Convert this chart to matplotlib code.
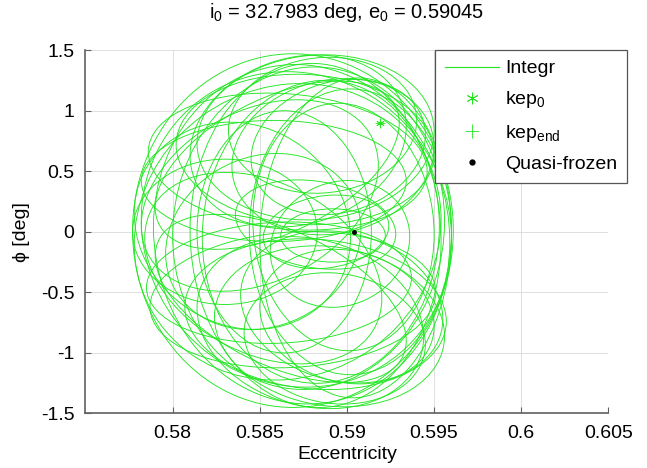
import numpy as np
import matplotlib.pyplot as plt
from matplotlib.patches import Ellipse
from matplotlib.transforms import Affine2D

plt.rcParams['font.family'] = ['Liberation Sans', 'DejaVu Sans']
plt.rcParams['mathtext.default'] = 'regular'

# loops of the integrated trajectory:
# centre (e, phi), half extent in e and phi, phi tilt at the right end
loop_e = [0.5869, 0.5874, 0.5878, 0.5866, 0.5882, 0.5871, 0.5885,
          0.5902, 0.5898, 0.5905,
          0.5882, 0.5876, 0.5892, 0.5866, 0.5886, 0.5858, 0.5872, 0.5895,
          0.5890, 0.5882, 0.5897, 0.5869, 0.5893, 0.5861, 0.5879, 0.5900,
          0.5840, 0.5852, 0.5864, 0.5830,
          0.5892, 0.5882, 0.5896, 0.5888,
          0.5860, 0.5862, 0.5850, 0.5852]
loop_phi = [0.01, -0.02, 0.03, 0.0, -0.03, 0.02, 0.0,
            0.0, 0.04, -0.05,
            0.78, 0.68, 0.62, 0.58, 0.88, 0.42, 0.75, 0.70,
            -0.78, -0.68, -0.62, -0.56, -0.88, -0.42, -0.75, -0.70,
            0.05, -0.08, 0.0, 0.0,
            -0.03, 0.06, -0.10, 0.0,
            0.55, -0.55, 0.30, -0.30]
loop_half_e = [0.0092, 0.0085, 0.0078, 0.0088, 0.0072, 0.0089, 0.0068,
               0.0058, 0.0052, 0.0055,
               0.0068, 0.0074, 0.0058, 0.0080, 0.0054, 0.0076, 0.0062, 0.0050,
               0.0066, 0.0075, 0.0058, 0.0082, 0.0052, 0.0076, 0.0065, 0.0050,
               0.0062, 0.0056, 0.0050, 0.0053,
               0.0030, 0.0046, 0.0040, 0.0036,
               0.0070, 0.0072, 0.0068, 0.0068]
loop_half_phi = [1.46, 1.40, 1.33, 1.22, 1.42, 1.30, 1.25,
                 1.18, 1.02, 1.32,
                 0.68, 0.62, 0.64, 0.56, 0.56, 0.50, 0.70, 0.55,
                 0.66, 0.62, 0.62, 0.56, 0.54, 0.50, 0.70, 0.55,
                 0.85, 0.72, 1.00, 0.60,
                 0.22, 0.36, 0.52, 0.30,
                 0.60, 0.60, 0.75, 0.75]
loop_tilt = [0.0, -0.06, 0.06, 0.10, -0.04, -0.08, 0.05,
             0.0, -0.06, 0.04,
             0.05, -0.04, 0.08, -0.08, 0.04, 0.0, 0.12, 0.10,
             -0.08, -0.06, -0.10, 0.06, -0.05, 0.04, -0.12, -0.08,
             -0.10, 0.10, 0.0, 0.0,
             0.0, -0.08, 0.06, 0.05,
             0.35, -0.35, 0.25, -0.25]

kep0 = (0.5919, 0.90)
kep_end = (0.5919, 0.90)
quasi_frozen = (0.5904, 0.0)

xticks = [0.58, 0.585, 0.59, 0.595, 0.6, 0.605]
yticks = [-1.5, -1, -0.5, 0, 0.5, 1, 1.5]

green = '#22e622'

fig = plt.figure(figsize=(6.47, 4.68), dpi=100)
ax = fig.add_axes([0.1321, 0.1165, 0.8083, 0.7763])

for ce, cp, he, hp, tilt in zip(loop_e, loop_phi, loop_half_e, loop_half_phi, loop_tilt):
    k = tilt / he
    shear = Affine2D(np.array([[1, 0, 0], [k, 1, -k * ce], [0, 0, 1]]))
    ax.add_patch(Ellipse((ce, cp), 2 * he, 2 * hp, fill=False, ec=green, lw=0.65,
                         transform=shear + ax.transData))

ax.plot([], [], '-', color=green, lw=0.8, label='Integr')
ax.plot(kep0[0], kep0[1], marker=(6, 2, 0), ls='none', color=green, ms=6, mew=0.6, label='kep$_0$')
ax.plot(kep_end[0], kep_end[1], '+', color=green, ms=7, mew=0.6, label='kep$_{end}$')
ax.plot(quasi_frozen[0], quasi_frozen[1], '.', color='black', ms=5, label='Quasi-frozen')

ax.set_xlim(0.575, 0.605)
ax.set_ylim(-1.5, 1.5)
ax.set_xticks(xticks)
ax.set_xticklabels([f'{v:g}' for v in xticks])
ax.set_yticks(yticks)
ax.set_yticklabels([f'{v:g}' for v in yticks])
ax.grid(True, color='#dedede', lw=0.7)
ax.set_axisbelow(True)

for s in ['top', 'right']:
    ax.spines[s].set_visible(False)
for s in ['left', 'bottom']:
    ax.spines[s].set_color('#606060')
    ax.spines[s].set_linewidth(1.2)
ax.tick_params(direction='in', length=4, width=0.8, color='#606060', labelsize=14, pad=8)

ax.set_xlabel('Eccentricity', fontsize=14, labelpad=3)
ax.set_ylabel('ϕ [deg]', fontsize=14, labelpad=8)
ax.set_title('$i_0$ = 32.7983 deg, $e_0$ = 0.59045', fontsize=14.5, pad=23)

leg = ax.legend(loc='upper right', bbox_to_anchor=(0.969, 0.893), bbox_transform=fig.transFigure,
                borderaxespad=0, fontsize=14, fancybox=False, framealpha=1, edgecolor='#555555',
                handlelength=2.8, handletextpad=0.3, labelspacing=0.62, borderpad=0.5,
                markerscale=1.4)
leg.get_frame().set_linewidth(0.9)

fig.savefig('out.png', dpi=100)
